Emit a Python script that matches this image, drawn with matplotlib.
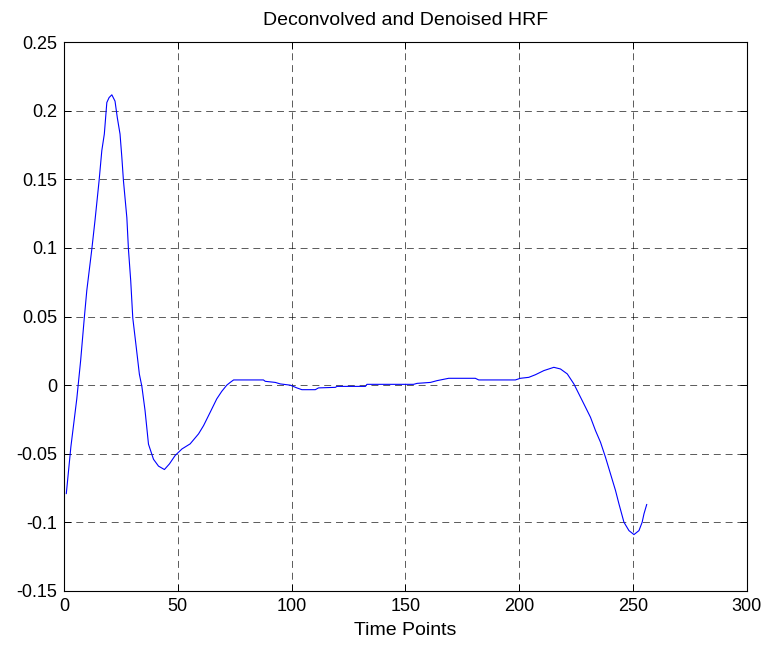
import matplotlib
matplotlib.use("Agg")
import matplotlib.pyplot as plt

# Time points and HRF values
time_points = [1, 3, 5.6, 7.3, 8.9, 10, 12.2, 13.6, 15.4, 16.6, 17.7, 18.8, 19.8, 21,
               22.4, 23.4, 24.6, 25.4, 26.1, 27.6, 28.3, 29.3, 30.2, 31.7, 33.1, 34.2,
               35.6, 37.1, 39.3, 41.5, 44.1, 46.3, 48.8, 51.8, 55.4, 59.1, 61.3, 64.2,
               67.1, 69.3, 71.5, 73, 74.5, 87.6, 88.4, 92.8, 95, 99.4, 102.3, 104.5,
               110.4, 111.8, 119.2, 119.9, 132.4, 133.1, 153.6, 155.1, 161, 163.9, 169,
               180.7, 182.2, 198.3, 200.5, 204.2, 207.1, 210.8, 215.2, 218.1, 221.1, 224,
               226.2, 228.4, 231.3, 233.5, 235.7, 237.9, 240.1, 242.3, 243.8, 246, 248.2,
               250.4, 252.6, 254, 254.8, 256]
hrf_values = [-0.079, -0.045, -0.010, 0.018, 0.049, 0.069, 0.099, 0.120, 0.149, 0.171,
              0.183, 0.206, 0.2096, 0.2116, 0.207, 0.195, 0.183, 0.166, 0.149, 0.122,
              0.099, 0.076, 0.049, 0.028, 0.008, -0.001, -0.0186, -0.043, -0.054, -0.059,
              -0.0615, -0.0574, -0.0513, -0.0465, -0.0428, -0.0355, -0.0295, -0.0198,
              -0.010, -0.0045, 0.0, 0.002, 0.0038, 0.0038, 0.0028, 0.002, 0.0009, 0.0,
              -0.002, -0.0033, -0.0033, -0.002, -0.0016, -0.0009, -0.0009, 0.0006, 0.0006,
              0.0013, 0.002, 0.0033, 0.005, 0.005, 0.0038, 0.0038, 0.005, 0.0057, 0.0076,
              0.0106, 0.013, 0.0118, 0.0082, 0.0009, -0.0064, -0.0137, -0.0234, -0.0331,
              -0.0416, -0.0526, -0.0647, -0.0768, -0.0865, -0.0999, -0.106, -0.1089,
              -0.106, -0.0999, -0.0938, -0.087]

x_ticks = [0, 50, 100, 150, 200, 250, 300]
y_ticks = [-0.15, -0.1, -0.05, 0, 0.05, 0.1, 0.15, 0.2, 0.25]
y_tick_labels = ["-0.15", "-0.1", "-0.05", "0", "0.05", "0.1", "0.15", "0.2", "0.25"]

plt.rcParams['font.family'] = ['Liberation Sans', 'DejaVu Sans']
plt.rcParams['font.size'] = 13
plt.rcParams['lines.scale_dashes'] = False

fig = plt.figure(figsize=(7.66, 6.48), dpi=100)
ax = fig.add_axes([0.0836, 0.088, 0.8914, 0.847])

ax.plot(time_points, hrf_values, color=(0, 0, 1), linewidth=0.8)

ax.set_xlim(0, 300)
ax.set_ylim(-0.15, 0.25)
ax.set_xticks(x_ticks)
ax.set_yticks(y_ticks)
ax.set_yticklabels(y_tick_labels)
ax.tick_params(direction='in', length=5, width=0.7, colors='black', labelsize=13,
               top=True, right=True, pad=5)
ax.grid(True, color='black', linestyle=(0, (5, 3.5)), linewidth=0.6, alpha=0.75)
for s in ax.spines.values():
    s.set_linewidth(0.8)

ax.set_title("Deconvolved and Denoised HRF", fontsize=14, pad=12)
ax.set_xlabel("Time Points", fontsize=14, labelpad=5)

fig.savefig("out.png", dpi=100)
